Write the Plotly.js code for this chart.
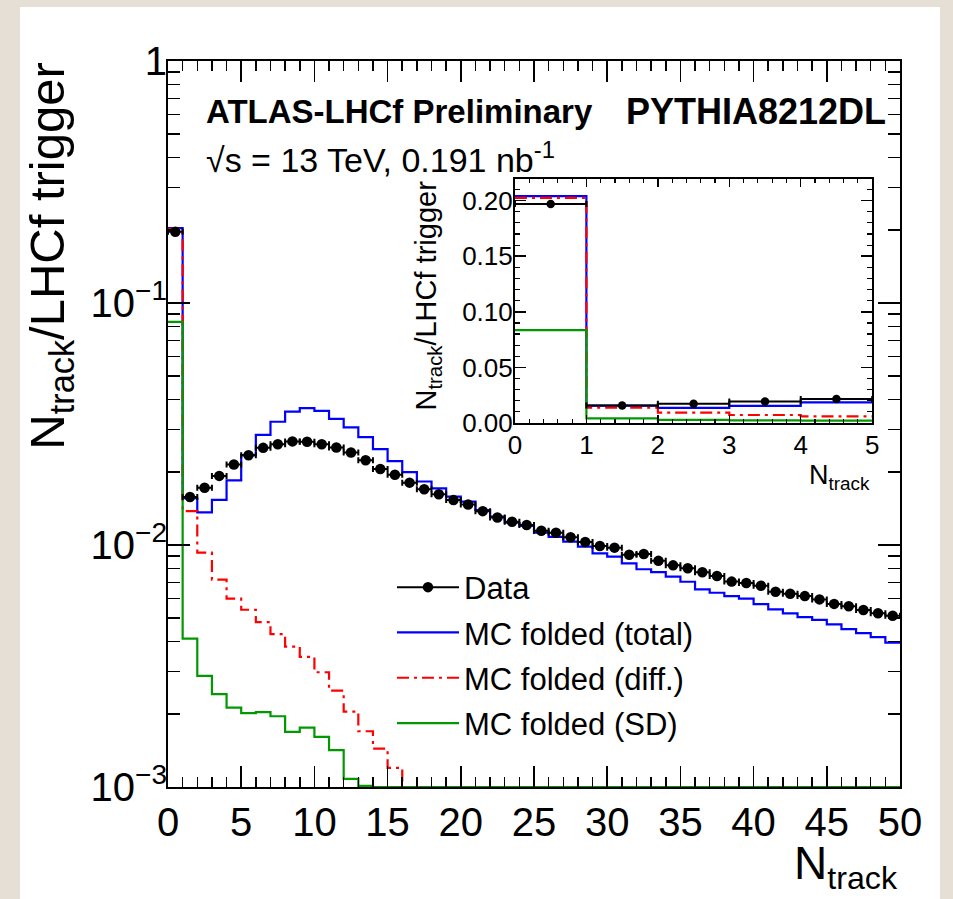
<!DOCTYPE html>
<html><head><meta charset="utf-8">
<script src="https://cdn.plot.ly/plotly-3.0.1.min.js"></script>
<style>
html,body{margin:0;padding:0;background:#e6dfd5;width:953px;height:899px;overflow:hidden;}
#chart{position:absolute;left:20px;top:7px;width:920px;height:892px;background:#fff;}
</style></head><body><div id="chart"></div>
<script>
// ---- data ----
const binEdges = [0,1,2,3,4,5,6,7,8,9,10,11,12,13,14,15,16,17,18,19,20,21,22,23,24,25,26,27,28,29,30,31,32,33,34,35,36,37,38,39,40,41,42,43,44,45,46,47,48,49,50];
const dataValues = [0.197,0.0158,0.01725,0.0193,0.0215,0.0235,0.0252,0.0261,0.0268,0.0267,0.0261,0.0253,0.0241,0.0224,0.0206,0.0195,0.0181,0.0170,0.0162,0.01535,0.0147,0.0138,0.0130,0.01248,0.0121,0.01146,0.01124,0.01076,0.01029,0.0099,0.00975,0.00912,0.00918,0.0086,0.00824,0.00801,0.00771,0.00745,0.00706,0.00697,0.00679,0.00641,0.00629,0.00615,0.00596,0.00571,0.00558,0.00539,0.00522,0.0051];
const mcTotal = [0.204,0.0156,0.01365,0.01535,0.0185,0.0235,0.0285,0.0323,0.0356,0.0368,0.0358,0.0332,0.0306,0.0279,0.0249,0.0222,0.0200,0.0183,0.01715,0.01585,0.0151,0.01395,0.0131,0.01236,0.0120,0.01124,0.0108,0.01032,0.00985,0.00924,0.00895,0.0084,0.00794,0.00773,0.0074,0.00705,0.00656,0.00635,0.00615,0.0060,0.0057,0.00542,0.00522,0.00503,0.0049,0.0047,0.00449,0.00432,0.00416,0.00395];
const mcDiff = [0.2025,0.0138,0.0093,0.0072,0.0060,0.0054,0.0048,0.00428,0.0038,0.00345,0.00298,0.0025,0.00205,0.0017,0.00144,0.0012,0.0009,0.0008,0.0007,0.0006,0.0005,0.0005,0.0004,0.0004,0.0003,0.0003,0.0003,0.0002,0.0002,0.0002,0.0002,0.0001,0.0001,0.0001,0.0001,0.0001,0.0001,0.0001,0.0001,0.0001,0.0001,0.0001,0.0001,0.0001,0.0001,0.0001,0.0001,0.0001,0.0001,0.0001];
const mcSD = [0.0835,0.0041,0.00288,0.00242,0.00213,0.00202,0.00204,0.00196,0.00169,0.00176,0.00161,0.00142,0.00108,0.00101,0.0008,0.0006,0.0005,0.0004,0.0003,0.0003,0.0002,0.0002,0.0002,0.0001,0.0001,0.0001,0.0001,0.0001,0.0001,0.0001,0.0001,0.0001,0.0001,0.0001,0.0001,0.0001,0.0001,0.0001,0.0001,0.0001,0.0001,0.0001,0.0001,0.0001,0.0001,0.0001,0.0001,0.0001,0.0001,0.0001];
const seriesNames = ["Data","MC folded (total)","MC folded (diff.)","MC folded (SD)"];
const xTickVals = [0,5,10,15,20,25,30,35,40,45,50];
const yTickVals = [0.001,0.01,0.1,1];
const yTickText = ["10<sup>\u22123</sup>","10<sup>\u22122</sup>","10<sup>\u22121</sup>","1"];
const insetXTickVals = [0,1,2,3,4,5];
const insetYTickVals = [0,0.05,0.10,0.15,0.20];
const insetYTickText = ["0.00","0.05","0.10","0.15","0.20"];
const insetNBins = 5;

// ---- helpers ----
const yFloor = 0.001;
const FONT = "Liberation Sans, Arial, Helvetica, sans-serif";
const centers = dataValues.map((v,i)=> (binEdges[i]+binEdges[i+1])/2);
function stepY(vals, floor){ const c = vals.map(v=> floor!==null ? Math.max(v,floor) : v); c.push(c[c.length-1]); return c; }
const yMinor = [];
[0.001,0.01,0.1].forEach(d=>{ for(let k=2;k<=9;k++) yMinor.push(d*k); });
const xMinor = binEdges.slice();

const blue = "#0000ff", red = "#ff0000", green = "#009900";
const dashDot = "12px,5px,3px,5px";

const traces = [
  {x: binEdges, y: stepY(mcTotal,yFloor), mode:"lines", line:{shape:"hv", color:blue, width:2.2}, name:seriesNames[1], legendrank:2, xaxis:"x", yaxis:"y", legendgroup:"b"},
  {x: binEdges, y: stepY(mcDiff,yFloor), mode:"lines", line:{shape:"hv", color:red, width:2.2, dash:dashDot}, name:seriesNames[2], legendrank:3, xaxis:"x", yaxis:"y", legendgroup:"c"},
  {x: binEdges, y: stepY(mcSD,yFloor), mode:"lines", line:{shape:"hv", color:green, width:2.2}, name:seriesNames[3], legendrank:4, xaxis:"x", yaxis:"y", legendgroup:"d"},
  {x: centers, y: dataValues, mode:"markers", marker:{color:"black", size:10.5}, error_x:{type:"constant", value:0.5, width:3, thickness:2, color:"black"}, showlegend:false, xaxis:"x", yaxis:"y"},
  {x: [null], y: [null], mode:"lines+markers", marker:{color:"black", size:10.5}, line:{color:"black", width:2}, name:seriesNames[0], legendrank:1, xaxis:"x", yaxis:"y", legendgroup:"a"},
  // inset
  {x: binEdges.slice(0,insetNBins+1), y: stepY(mcTotal.slice(0,insetNBins),null), mode:"lines", line:{shape:"hv", color:blue, width:2.2}, showlegend:false, xaxis:"x2", yaxis:"y2"},
  {x: binEdges.slice(0,insetNBins+1), y: stepY(mcDiff.slice(0,insetNBins),null), mode:"lines", line:{shape:"hv", color:red, width:2.2, dash:dashDot}, showlegend:false, xaxis:"x2", yaxis:"y2"},
  {x: binEdges.slice(0,insetNBins+1), y: stepY(mcSD.slice(0,insetNBins),null), mode:"lines", line:{shape:"hv", color:green, width:2.2}, showlegend:false, xaxis:"x2", yaxis:"y2"},
  {x: centers.slice(0,insetNBins), y: dataValues.slice(0,insetNBins), mode:"markers", marker:{color:"black", size:8.5}, error_x:{type:"constant", value:0.5, width:3, thickness:2, color:"black"}, showlegend:false, xaxis:"x2", yaxis:"y2", cliponaxis:false}
];

const axBase = {showline:true, linecolor:"black", linewidth:2, mirror:"ticks", ticks:"inside", tickcolor:"black", showgrid:false, zeroline:false, fixedrange:true};

const layout = {
  width:920, height:892,
  margin:{l:148, r:40, t:54, b:112, pad:0},
  paper_bgcolor:"#ffffff", plot_bgcolor:"#ffffff",
  font:{family:FONT, color:"black"},
  showlegend:true,
  legend:{x:0.306, y:0.312, xanchor:"left", yanchor:"top", font:{size:31, family:FONT}, itemwidth:62, bgcolor:"rgba(0,0,0,0)", traceorder:"grouped", tracegroupgap:2},
  xaxis: Object.assign({}, axBase, {domain:[0,1], anchor:"y", range:[0,50], tickmode:"array", tickvals:xTickVals, ticklen:21, tickwidth:1.5, tickfont:{size:40, family:FONT}, ticklabelstandoff:-1,
    minor:{tickmode:"array", tickvals:xMinor, ticks:"inside", ticklen:10, tickwidth:1.5, tickcolor:"black", showgrid:false}}),
  yaxis: Object.assign({}, axBase, {domain:[0,1], anchor:"x", type:"log", range:[-3,0], tickmode:"array", tickvals:yTickVals, ticktext:yTickText, ticklen:22, tickwidth:1.5, tickfont:{size:40, family:FONT}, ticklabelstandoff:-9,
    minor:{tickmode:"array", tickvals:yMinor, ticks:"inside", ticklen:12, tickwidth:1.5, tickcolor:"black", showgrid:false}}),
  xaxis2: Object.assign({}, axBase, {domain:[0.474,0.962], anchor:"y2", range:[0,5], tickmode:"array", tickvals:insetXTickVals, ticklen:8, tickwidth:1.5, linewidth:2, tickfont:{size:26, family:FONT}, ticklabelstandoff:-2,
    minor:{dtick:0.2, ticks:"inside", ticklen:4, tickwidth:1.2, tickcolor:"black", showgrid:false}}),
  yaxis2: Object.assign({}, axBase, {domain:[0.5014,0.8375], anchor:"x2", range:[0,0.2195], tickmode:"array", tickvals:insetYTickVals, ticktext:insetYTickText, ticklen:11, tickwidth:1.5, linewidth:2, tickfont:{size:26, family:FONT}, ticklabelstandoff:-5,
    minor:{dtick:0.01, ticks:"inside", ticklen:5, tickwidth:1.2, tickcolor:"black", showgrid:false}}),
  annotations:[
    {text:"N<sub>track</sub>/LHCf trigger", xref:"paper", yref:"paper", x:-0.161, y:1.0, xanchor:"center", yanchor:"top", textangle:-90, showarrow:false, font:{size:49, family:FONT}},
    {text:"N<sub>track</sub>", xref:"paper", yref:"paper", x:1.0, y:-0.066, xanchor:"right", yanchor:"top", showarrow:false, font:{size:46, family:FONT}},
    {text:"<b>ATLAS-LHCf Preliminary</b>", xref:"paper", yref:"paper", x:0.0495, y:0.9298, xanchor:"left", yanchor:"middle", showarrow:false, font:{size:33, family:FONT}},
    {text:"<b>PYTHIA8212DL</b>", xref:"paper", yref:"paper", x:0.9836, y:0.9298, xanchor:"right", yanchor:"middle", showarrow:false, font:{size:36, family:FONT}},
    {text:"\u221As = 13 TeV, 0.191 nb<sup>-1</sup>", xref:"paper", yref:"paper", x:0.0495, y:0.8664, xanchor:"left", yanchor:"middle", showarrow:false, font:{size:34, family:FONT}},
    {text:"N<sub>track</sub>/LHCf trigger", xref:"paper", yref:"paper", x:0.355, y:0.838, xanchor:"center", yanchor:"top", textangle:-90, showarrow:false, font:{size:29, family:FONT}},
    {text:"N<sub>track</sub>", xref:"paper", yref:"paper", x:0.9617, y:0.453, xanchor:"right", yanchor:"top", showarrow:false, font:{size:27, family:FONT}}
  ]
};

Plotly.newPlot("chart", traces, layout, {displayModeBar:false, staticPlot:true});
</script></body></html>
